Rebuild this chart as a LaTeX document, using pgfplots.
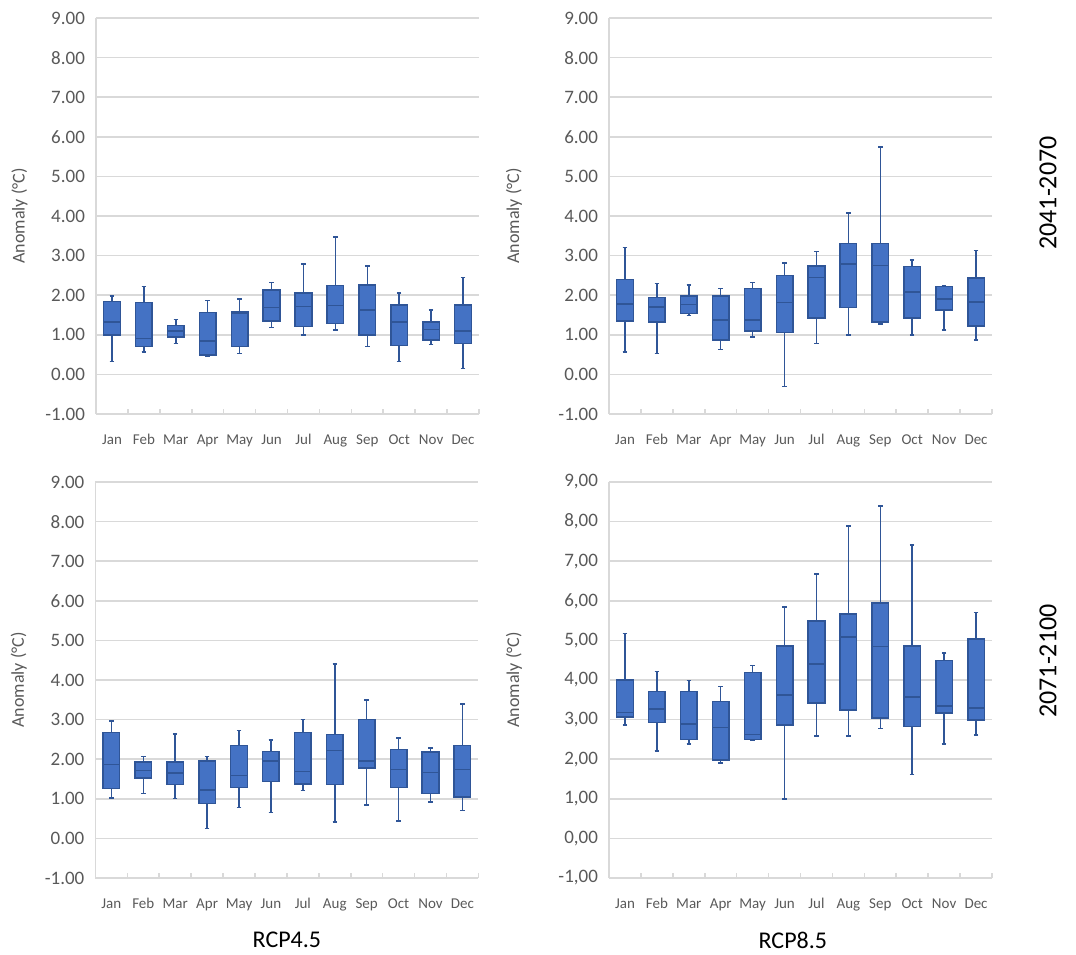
\documentclass[border=0pt]{standalone}
\usepackage{pgfplots}
\pgfplotsset{compat=1.18}
\usepackage{pgfplotstable}
\usepgfplotslibrary{statistics}
\usepackage{fontspec}
\setmainfont{Carlito}
\definecolor{boxfill}{HTML}{4472C4}
\definecolor{boxdraw}{HTML}{2F5597}
\definecolor{txt}{HTML}{595959}
\definecolor{gridc}{HTML}{D9D9D9}

% columns: lower whisker, lower quartile, median, upper quartile, upper whisker
\pgfplotstableread{
m lw lq med uq uw
Jan 0.32 0.99 1.32 1.84 1.98
Feb 0.57 0.70 0.91 1.82 2.22
Mar 0.78 0.94 1.10 1.24 1.39
Apr 0.45 0.49 0.84 1.56 1.86
May 0.53 0.70 1.54 1.58 1.90
Jun 1.18 1.35 1.69 2.13 2.32
Jul 0.99 1.21 1.71 2.05 2.79
Aug 1.12 1.29 1.74 2.24 3.47
Sep 0.70 0.99 1.63 2.26 2.74
Oct 0.32 0.73 1.32 1.75 2.05
Nov 0.76 0.87 1.14 1.32 1.63
Dec 0.15 0.78 1.10 1.75 2.45
}\TL
\pgfplotstableread{
m lw lq med uq uw
Jan 0.57 1.35 1.78 2.40 3.21
Feb 0.53 1.32 1.70 1.94 2.30
Mar 1.49 1.54 1.77 1.98 2.26
Apr 0.63 0.87 1.37 1.98 2.17
May 0.94 1.10 1.37 2.17 2.32
Jun -0.31 1.06 1.81 2.50 2.81
Jul 0.78 1.43 2.45 2.74 3.10
Aug 0.99 1.69 2.79 3.31 4.07
Sep 1.27 1.32 2.75 3.31 5.74
Oct 0.99 1.43 2.08 2.72 2.89
Nov 1.12 1.63 1.91 2.22 2.23
Dec 0.87 1.22 1.83 2.43 3.13
}\TR
\pgfplotstableread{
m lw lq med uq uw
Jan 1.02 1.26 1.87 2.68 2.96
Feb 1.13 1.53 1.72 1.93 2.07
Mar 1.01 1.36 1.65 1.93 2.64
Apr 0.25 0.88 1.22 1.96 2.07
May 0.78 1.28 1.59 2.35 2.73
Jun 0.65 1.44 1.95 2.20 2.49
Jul 1.21 1.38 1.69 2.68 3.00
Aug 0.42 1.36 2.22 2.63 4.41
Sep 0.84 1.78 1.95 3.00 3.50
Oct 0.44 1.28 1.74 2.25 2.53
Nov 0.92 1.13 1.66 2.18 2.28
Dec 0.71 1.05 1.74 2.35 3.40
}\BL
\pgfplotstableread{
m lw lq med uq uw
Jan 2.86 3.07 3.18 4.00 5.18
Feb 2.21 2.93 3.27 3.71 4.22
Mar 2.39 2.50 2.89 3.71 3.99
Apr 1.91 1.98 2.80 3.46 3.84
May 2.48 2.50 2.63 4.19 4.37
Jun 0.99 2.86 3.62 4.86 5.84
Jul 2.59 3.42 4.41 5.49 6.68
Aug 2.59 3.24 5.09 5.67 7.89
Sep 2.78 3.04 4.84 5.94 8.40
Oct 1.61 2.82 3.57 4.86 7.41
Nov 2.39 3.17 3.34 4.49 4.68
Dec 2.61 2.99 3.29 5.03 5.70
}\BR

\pgfplotsset{
  panel/.style={
    scale only axis, width=191.5pt, height=198pt,
    xmin=0.5, xmax=12.5, ymin=-1, ymax=9,
    axis x line*=bottom, axis y line*=left,
    axis line style={draw=gridc, line width=0.8pt, -},
    ytick={-1,0,1,2,3,4,5,6,7,8,9},
    ymajorgrids, grid style={draw=gridc, line width=0.8pt},
    major y tick style={draw=none},
    xtick={1,...,12},
    xticklabels={Jan,Feb,Mar,Apr,May,Jun,Jul,Aug,Sep,Oct,Nov,Dec},
    major x tick style={draw=none},
    minor xtick={0.5,1.5,...,12.5},
    minor x tick style={draw=gridc, line width=0.8pt},
    minor tick length=2.5pt, tick align=inside,
    xticklabel style={font=\fontsize{7.5}{9}\selectfont, text=txt, yshift=-4pt,
      text height=1.6ex, text depth=0.4ex},
    yticklabel style={font=\fontsize{9.5}{11}\selectfont, text=txt, xshift=-2pt},
    /pgf/number format/.cd, fixed, fixed zerofill, precision=2, assume math mode=true,
    /pgfplots/.cd,
    ylabel={Anomaly (°C)},
    ylabel style={font=\fontsize{9}{11}\selectfont, text=txt, at={(axis description cs:-0.2,0.5)}, anchor=center},
    boxplot/draw direction=y,
    boxplot/box extend=0.52,
    boxplot/whisker extend=0.14,
  },
}

\newcommand{\boxes}[1]{%
  \pgfplotsinvokeforeach{0,...,11}{%
    \pgfplotstablegetelem{##1}{lw}\of#1\let\vlw\pgfplotsretval
    \pgfplotstablegetelem{##1}{lq}\of#1\let\vlq\pgfplotsretval
    \pgfplotstablegetelem{##1}{med}\of#1\let\vmed\pgfplotsretval
    \pgfplotstablegetelem{##1}{uq}\of#1\let\vuq\pgfplotsretval
    \pgfplotstablegetelem{##1}{uw}\of#1\let\vuw\pgfplotsretval
    \edef\doplot{\noexpand\addplot[draw=boxdraw, fill=boxfill, line width=0.75pt,
      boxplot prepared={draw direction=y, draw position=\the\numexpr##1+1\relax,
        lower whisker=\vlw, lower quartile=\vlq, median=\vmed,
        upper quartile=\vuq, upper whisker=\vuw}] coordinates {};}%
    \doplot
  }%
}

\begin{document}
\begin{tikzpicture}
\path[use as bounding box] (0,0) rectangle (538pt,477pt);

\begin{axis}[panel, at={(48pt,270pt)}, anchor=south west]
\boxes{\TL}
\end{axis}

\begin{axis}[panel, at={(304.5pt,270pt)}, anchor=south west,
  ylabel style={at={(axis description cs:-0.248,0.5)}}]
\boxes{\TR}
\end{axis}

\begin{axis}[panel, at={(47.7pt,38pt)}, anchor=south west,
  xlabel={RCP4.5},
  xlabel style={font=\fontsize{12}{14}\selectfont, text=black, at={(axis description cs:0.5,0)}, anchor=center, yshift=-31pt}]
\boxes{\BL}
\end{axis}

\begin{axis}[panel, at={(304.5pt,38pt)}, anchor=south west,
  /pgf/number format/use comma,
  ylabel style={at={(axis description cs:-0.248,0.5)}},
  xlabel={RCP8.5},
  xlabel style={font=\fontsize{12}{14}\selectfont, text=black, at={(axis description cs:0.48,0)}, anchor=center, yshift=-31pt}]
\boxes{\BR}
\end{axis}

\node[rotate=90, font=\fontsize{13}{15}\selectfont, text=black] at (524pt,380.5pt) {2041-2070};
\node[rotate=90, font=\fontsize{13}{15}\selectfont, text=black] at (524pt,146.5pt) {2071-2100};
\end{tikzpicture}
\end{document}
